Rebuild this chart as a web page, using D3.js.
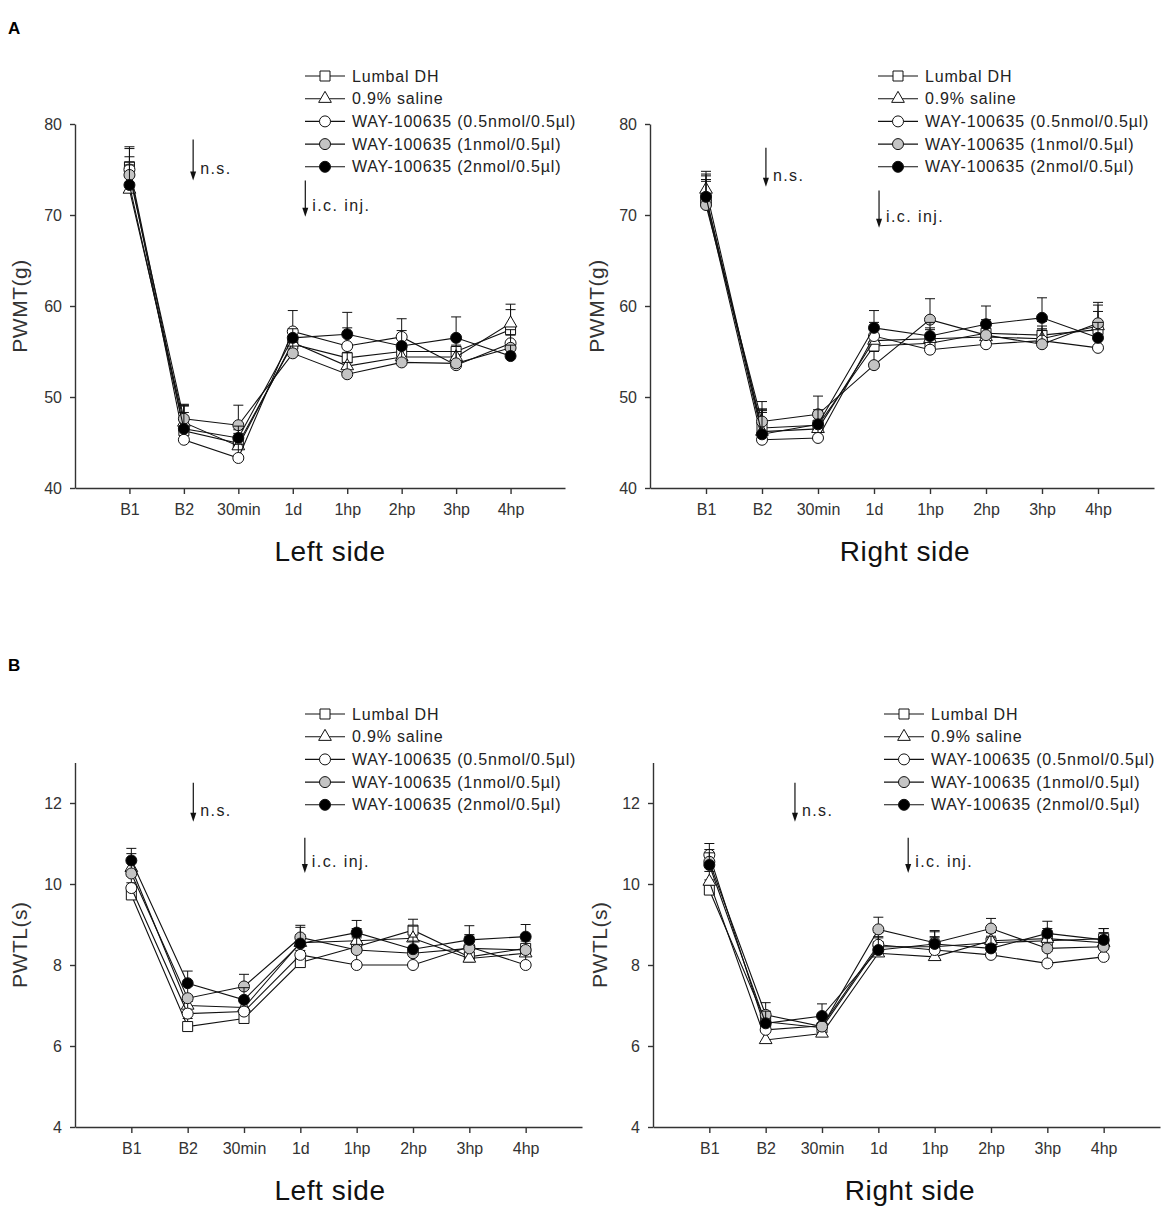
<!DOCTYPE html>
<html>
<head>
<meta charset="utf-8">
<script src="https://cdn.jsdelivr.net/npm/d3@7"></script>
<style>
	body { margin: 0; background: #fff; }
	svg { font-family: Arial, "Liberation Sans", sans-serif; }
	.axis path, .axis line { stroke: #333; stroke-width: 1.4; }
	.axis text { font-size: 16px; fill: #333; }
</style>
</head>
<body>
<div id="chart"></div>
<script>
// time points along the x axis
var categories = ["B1", "B2", "30min", "1d", "1hp", "2hp", "3hp", "4hp"];
var seriesNames = [
	"Lumbal DH",
	"0.9% saline",
	"WAY-100635 (0.5nmol/0.5\u00b5l)",
	"WAY-100635 (1nmol/0.5\u00b5l)",
	"WAY-100635 (2nmol/0.5\u00b5l)"
];

// PWMT (g), left hind paw: one row per series, then the SEM rows
var pwmtLeftMeans = [
	[75.3, 46.3, 44.9, 55.8, 54.3, 55.0, 55.0, 57.4],
	[72.8, 47.2, 44.6, 56.0, 53.4, 54.4, 54.4, 58.1],
	[75.0, 45.3, 43.3, 57.2, 55.6, 56.6, 53.5, 55.9],
	[74.4, 47.6, 46.9, 54.8, 52.5, 53.8, 53.7, 55.4],
	[73.3, 46.5, 45.5, 56.5, 56.9, 55.6, 56.5, 54.5]
];
var pwmtLeftErrors = [
	[2.0, 2.8, 1.5, 1.2, 1.2, 1.5, 1.4, 2.2],
	[3.0, 2.0, 1.4, 1.2, 1.5, 1.3, 1.3, 2.1],
	[2.5, 3.0, 1.5, 2.3, 2.0, 2.0, 1.5, 1.5],
	[2.0, 1.5, 2.2, 1.2, 1.3, 1.5, 1.3, 1.4],
	[2.2, 2.5, 1.3, 1.0, 2.4, 1.7, 2.3, 1.2]
];

// PWMT (g), right hind paw
var pwmtRightMeans = [
	[71.8, 46.6, 46.9, 55.6, 55.9, 57.0, 56.8, 57.4],
	[72.8, 46.2, 46.5, 56.2, 56.4, 56.6, 56.4, 57.8],
	[71.5, 45.3, 45.5, 56.7, 55.2, 55.8, 56.2, 55.4],
	[71.1, 47.3, 48.1, 53.5, 58.5, 56.8, 55.8, 58.1],
	[72.0, 45.9, 47.0, 57.6, 56.7, 58.0, 58.7, 56.5]
];
var pwmtRightErrors = [
	[2.5, 2.0, 1.5, 1.3, 1.5, 1.5, 1.5, 2.0],
	[2.0, 2.5, 1.5, 1.2, 1.2, 1.3, 1.4, 2.3],
	[2.4, 3.0, 1.5, 1.5, 1.3, 1.3, 1.3, 1.5],
	[2.6, 2.2, 2.0, 1.5, 2.3, 1.5, 1.5, 2.3],
	[2.5, 2.6, 1.6, 1.9, 1.5, 2.0, 2.2, 1.7]
];

// PWTL (s), left hind paw
var pwtlLeftMeans = [
	[9.73, 6.48, 6.68, 8.06, 8.45, 8.86, 8.20, 8.41],
	[10.40, 7.00, 6.95, 8.55, 8.60, 8.66, 8.16, 8.29],
	[9.90, 6.80, 6.85, 8.25, 8.00, 8.00, 8.45, 8.00],
	[10.26, 7.18, 7.47, 8.68, 8.37, 8.29, 8.41, 8.37],
	[10.58, 7.55, 7.14, 8.53, 8.80, 8.39, 8.62, 8.70]
];
var pwtlLeftErrors = [
	[0.30, 0.20, 0.20, 0.30, 0.25, 0.27, 0.25, 0.30],
	[0.35, 0.25, 0.20, 0.20, 0.30, 0.30, 0.30, 0.30],
	[0.30, 0.30, 0.30, 0.30, 0.30, 0.40, 0.30, 0.30],
	[0.30, 0.30, 0.30, 0.30, 0.30, 0.30, 0.30, 0.30],
	[0.30, 0.30, 0.30, 0.40, 0.30, 0.30, 0.35, 0.30]
];

// PWTL (s), right hind paw
var pwtlRightMeans = [
	[9.85, 6.60, 6.45, 8.45, 8.45, 8.55, 8.60, 8.65],
	[10.06, 6.15, 6.31, 8.29, 8.20, 8.60, 8.65, 8.55],
	[10.72, 6.40, 6.50, 8.50, 8.37, 8.25, 8.04, 8.20],
	[10.55, 6.77, 6.48, 8.88, 8.55, 8.90, 8.41, 8.45],
	[10.47, 6.56, 6.74, 8.37, 8.52, 8.41, 8.78, 8.62]
];
var pwtlRightErrors = [
	[0.25, 0.25, 0.25, 0.25, 0.25, 0.25, 0.25, 0.25],
	[0.25, 0.30, 0.25, 0.25, 0.25, 0.25, 0.25, 0.25],
	[0.28, 0.30, 0.30, 0.30, 0.30, 0.25, 0.30, 0.25],
	[0.30, 0.30, 0.30, 0.30, 0.30, 0.25, 0.30, 0.25],
	[0.30, 0.30, 0.30, 0.30, 0.30, 0.30, 0.30, 0.28]
];

var pwmtTicks = [40, 50, 60, 70, 80];
var pwtlTicks = [4, 6, 8, 10, 12];

var SYMBOLS = [d3.symbolSquare, d3.symbolTriangle, d3.symbolCircle, d3.symbolCircle, d3.symbolCircle];
var SYMBOL_SIZES = [100, 70, 95, 95, 95];
var FILLS = ["#fff", "#fff", "#fff", "#c4c4c4", "#000"];

class D3LinePanel {

	constructor(svg, opts) {
		//opts: means, errors, yDomain, yTicks, xRange, yRange, yLabel, yLabelX, title, legendX, legendY, notes
		this.svg = svg;
		this.opts = opts;
	}

	create() {
		var o = this.opts;
		var xScale = d3.scaleLinear().domain([0, 9]).range(o.xRange);
		var yScale = d3.scaleLinear().domain(o.yDomain).range(o.yRange);

		this._drawAxes(xScale, yScale);
		this._drawSeries(xScale, yScale);
		this._drawLegend();
		this._drawNotes(xScale, yScale);
	}

	_drawAxes(xScale, yScale) {
		var o = this.opts;
		var g = this.svg.append('g');

		g.append('g')
			.attr('class', 'axis')
			.attr('transform', 'translate(0,' + o.yRange[0] + ')')
			.call(d3.axisBottom(xScale)
				.tickValues(d3.range(1, categories.length + 1))
				.tickFormat(d => categories[d - 1])
				.tickSize(6)
				.tickPadding(10)
				.tickSizeOuter(0)
			);

		g.append('g')
			.attr('class', 'axis')
			.attr('transform', 'translate(' + o.xRange[0] + ',0)')
			.call(d3.axisLeft(yScale)
				.tickValues(o.yTicks)
				.tickSize(5)
				.tickPadding(8)
				.tickSizeOuter(0)
			);

		var midY = (o.yRange[0] + o.yRange[1]) / 2;
		g.append('text')
			.attr('transform', 'translate(' + o.yLabelX + ',' + midY + ') rotate(-90)')
			.attr('text-anchor', 'middle')
			.attr('dy', '0.35em')
			.style('font-size', '21px')
			.style('letter-spacing', '0.5px')
			.style('fill', '#333')
			.text(o.yLabel);

		g.append('text')
			.attr('x', o.titleX)
			.attr('y', o.yRange[0] + 73)
			.attr('text-anchor', 'middle')
			.style('font-size', '28px')
			.style('letter-spacing', '0.6px')
			.style('fill', '#111')
			.text(o.title);
	}

	_drawSeries(xScale, yScale) {
		var o = this.opts;
		var line = d3.line()
			.x((d, i) => xScale(i + 1))
			.y(d => yScale(d));

		var g = this.svg.append('g');

		o.means.forEach((values, s) => {
			var sg = g.append('g');
			sg.append('path')
				.attr('d', line(values))
				.attr('fill', 'none')
				.attr('stroke', '#111')
				.attr('stroke-width', 1.1);

			//upper error bars only
			var bars = sg.selectAll('.err')
				.data(values.map((v, i) => ({ i: i, v: v, e: o.errors[s][i] })))
				.enter().append('g');
			bars.append('line')
				.attr('x1', d => xScale(d.i + 1))
				.attr('x2', d => xScale(d.i + 1))
				.attr('y1', d => yScale(d.v))
				.attr('y2', d => yScale(d.v + d.e))
				.attr('stroke', '#111');
			bars.append('line')
				.attr('x1', d => xScale(d.i + 1) - 5)
				.attr('x2', d => xScale(d.i + 1) + 5)
				.attr('y1', d => yScale(d.v + d.e))
				.attr('y2', d => yScale(d.v + d.e))
				.attr('stroke', '#111');

			sg.selectAll('.pt')
				.data(values)
				.enter().append('path')
				.attr('transform', (d, i) => 'translate(' + xScale(i + 1) + ',' + yScale(d) + ')')
				.attr('d', d3.symbol().type(SYMBOLS[s]).size(SYMBOL_SIZES[s]))
				.attr('fill', FILLS[s])
				.attr('stroke', '#111')
				.attr('stroke-width', 1);
		});
	}

	_drawLegend() {
		var o = this.opts;
		var g = this.svg.append('g')
			.attr('transform', 'translate(' + o.legendX + ',' + o.legendY + ')');

		seriesNames.forEach((name, s) => {
			var row = g.append('g').attr('transform', 'translate(0,' + (s * 22.7) + ')');
			row.append('line')
				.attr('x1', 0).attr('x2', 40)
				.attr('stroke', '#111')
				.attr('stroke-width', 1.1);
			row.append('path')
				.attr('transform', 'translate(20,0)')
				.attr('d', d3.symbol().type(SYMBOLS[s]).size(SYMBOL_SIZES[s]))
				.attr('fill', FILLS[s])
				.attr('stroke', '#111');
			row.append('text')
				.attr('x', 47)
				.attr('dy', '0.35em')
				.style('font-size', '16px')
				.style('letter-spacing', '0.8px')
				.style('fill', '#222')
				.text(name);
		});
	}

	_drawNotes(xScale, yScale) {
		var o = this.opts;
		var g = this.svg.append('g');
		o.notes.forEach(n => {
			var x = xScale(n.x);
			var y0 = yScale(n.y0);
			var y1 = yScale(n.y1);
			g.append('line')
				.attr('x1', x).attr('x2', x)
				.attr('y1', y0).attr('y2', y1 - 7)
				.attr('stroke', '#111')
				.attr('stroke-width', 1.2);
			g.append('path')
				.attr('d', 'M' + (x - 3) + ',' + (y1 - 9) + 'L' + (x + 3) + ',' + (y1 - 9) + 'L' + x + ',' + y1 + 'Z')
				.attr('fill', '#111');
			g.append('text')
				.attr('x', x + 7)
				.attr('y', y1 - 6)
				.style('font-size', '16px')
				.style('letter-spacing', '1.4px')
				.style('fill', '#222')
				.text(n.label);
		});
	}
}

var svg = d3.select('#chart').append('svg')
	.attr('width', 1170)
	.attr('height', 1213);

svg.append('rect').attr('width', 1170).attr('height', 1213).attr('fill', '#fff');

svg.append('text').attr('x', 8).attr('y', 34).style('font-size', '17px').style('font-weight', 'bold').text('A');
svg.append('text').attr('x', 8).attr('y', 671).style('font-size', '17px').style('font-weight', 'bold').text('B');

var panels = [
	{
		means: pwmtLeftMeans, errors: pwmtLeftErrors, yDomain: [40, 80], yTicks: pwmtTicks,
		xRange: [75, 565], yRange: [488, 124], yLabel: 'PWMT(g)', yLabelX: 20,
		title: 'Left side', titleX: 330, legendX: 305, legendY: 76,
		notes: [
			{ label: 'n.s.', x: 2.17, y0: 78.3, y1: 73.8 },
			{ label: 'i.c. inj.', x: 4.23, y0: 73.8, y1: 69.8 }
		]
	},
	{
		means: pwmtRightMeans, errors: pwmtRightErrors, yDomain: [40, 80], yTicks: pwmtTicks,
		xRange: [650, 1154], yRange: [488, 124], yLabel: 'PWMT(g)', yLabelX: 597,
		title: 'Right side', titleX: 905, legendX: 878, legendY: 76,
		notes: [
			{ label: 'n.s.', x: 2.07, y0: 77.4, y1: 73.1 },
			{ label: 'i.c. inj.', x: 4.09, y0: 72.7, y1: 68.6 }
		]
	},
	{
		means: pwtlLeftMeans, errors: pwtlLeftErrors, yDomain: [4, 13], yTicks: pwtlTicks,
		xRange: [75, 582], yRange: [1127, 762.5], yLabel: 'PWTL(s)', yLabelX: 20,
		title: 'Left side', titleX: 330, legendX: 305, legendY: 714,
		notes: [
			{ label: 'n.s.', x: 2.1, y0: 12.5, y1: 11.54 },
			{ label: 'i.c. inj.', x: 4.08, y0: 11.14, y1: 10.27 }
		]
	},
	{
		means: pwtlRightMeans, errors: pwtlRightErrors, yDomain: [4, 13], yTicks: pwtlTicks,
		xRange: [653, 1160], yRange: [1127, 762.5], yLabel: 'PWTL(s)', yLabelX: 600,
		title: 'Right side', titleX: 910, legendX: 884, legendY: 714,
		notes: [
			{ label: 'n.s.', x: 2.52, y0: 12.5, y1: 11.54 },
			{ label: 'i.c. inj.', x: 4.53, y0: 11.14, y1: 10.27 }
		]
	}
];

panels.forEach(p => new D3LinePanel(svg, p).create());
</script>
</body>
</html>
